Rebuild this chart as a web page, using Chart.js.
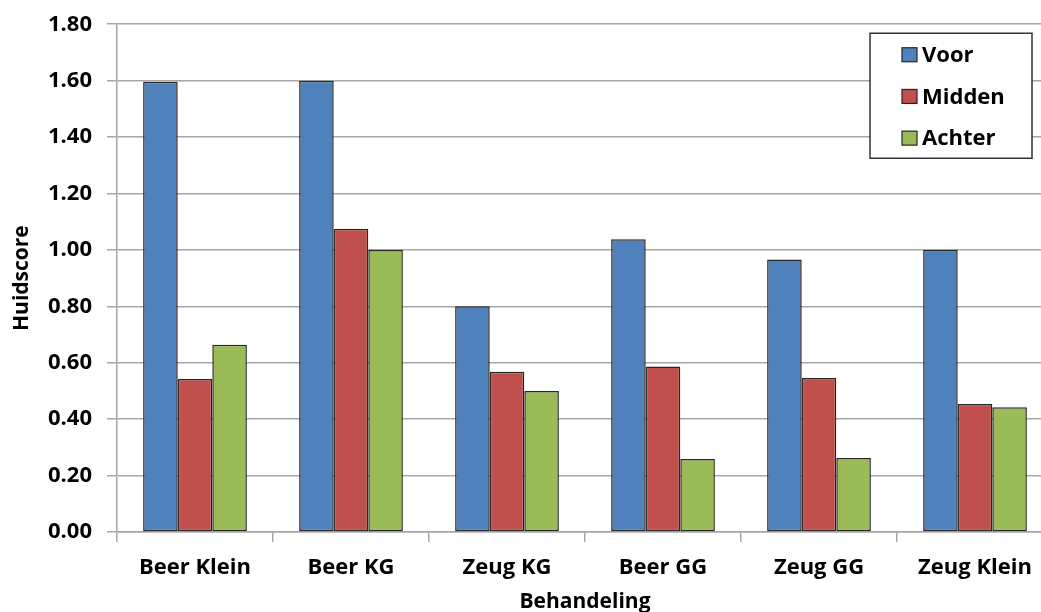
<!DOCTYPE html>
<html>
<head>
<meta charset="utf-8">
<title>Huidscore per behandeling</title>
<script src="https://cdn.jsdelivr.net/npm/chart.js@4/dist/chart.umd.min.js"></script>
<style>
  html, body { margin: 0; padding: 0; background: #fff; overflow: hidden; }
  #wrap { width: 1041px; height: 612px; overflow: hidden; position: relative; }
  canvas { display: block; }
</style>
</head>
<body>
<div id="wrap"><canvas id="chart" width="1053" height="620"></canvas></div>
<script>
// Categories and scores per body region
const categories = ['Beer Klein', 'Beer KG', 'Zeug KG', 'Beer GG', 'Zeug GG', 'Zeug Klein'];
const voor   = [1.596, 1.600, 0.800, 1.038, 0.966, 1.000];
const midden = [0.542, 1.075, 0.568, 0.587, 0.546, 0.454];
const achter = [0.664, 1.000, 0.500, 0.259, 0.262, 0.442];
const seriesNames = ['Voor', 'Midden', 'Achter'];
const yMin = 0, yMax = 1.8, yStep = 0.2;

const FONT = "'Open Sans', 'DejaVu Sans', sans-serif";
const GRID = '#a6a6a6';
const EDGE = '#262626';

// Legend drawn as a boxed panel inside the plot area (top right)
const boxedLegend = {
  id: 'boxedLegend',
  afterDraw(chart) {
    const ctx = chart.ctx;
    const area = chart.chartArea;
    const w = 162, h = 125;
    const x = area.right - 21 - w, y = area.top + 9;
    ctx.save();
    ctx.fillStyle = '#ffffff';
    ctx.fillRect(x, y, w, h);
    ctx.strokeStyle = '#333333';
    ctx.lineWidth = 1.5;
    ctx.strokeRect(x, y, w, h);
    ctx.font = 'bold 22px ' + FONT;
    ctx.textBaseline = 'middle';
    ctx.textAlign = 'left';
    chart.data.datasets.forEach((ds, i) => {
      const cy = y + 21.5 + i * 41.7;
      ctx.fillStyle = ds.backgroundColor;
      ctx.fillRect(x + 32, cy - 7, 15, 14);
      ctx.strokeStyle = EDGE;
      ctx.lineWidth = 1.2;
      ctx.strokeRect(x + 32, cy - 7, 15, 14);
      ctx.fillStyle = '#000000';
      ctx.fillText(ds.label, x + 52, cy + 1);
    });
    ctx.restore();
  }
};

const colors = ['#4F81BD', '#C0504D', '#9BBB59'];
const values = [voor, midden, achter];

new Chart(document.getElementById('chart'), {
  type: 'bar',
  data: {
    labels: categories,
    datasets: values.map((v, i) => ({
      label: seriesNames[i],
      data: v,
      backgroundColor: colors[i],
      borderColor: EDGE,
      borderWidth: 1.5,
      borderSkipped: false,
      barPercentage: 1.0,
      categoryPercentage: 0.665
    }))
  },
  options: {
    responsive: false,
    animation: false,
    devicePixelRatio: 1,
    layout: { padding: { top: 0, right: 0, left: 0, bottom: 0 } },
    plugins: {
      legend: { display: false },
      tooltip: { enabled: false }
    },
    scales: {
      x: {
        offset: true,
        grid: {
          offset: true,
          drawOnChartArea: false,
          drawTicks: true,
          tickLength: 10,
          color: GRID,
          lineWidth: 1.5
        },
        border: { color: GRID, width: 1.5 },
        ticks: {
          color: '#000',
          font: { family: FONT, size: 22, weight: 'bold' },
          padding: 13,
          maxRotation: 0,
          autoSkip: false
        },
        title: {
          display: true,
          text: 'Behandeling',
          color: '#000',
          font: { family: FONT, size: 21, weight: 'bold' },
          padding: { top: 0, bottom: 5 }
        },
        afterFit(scale) { scale.height = 88; }
      },
      y: {
        min: yMin,
        max: yMax,
        grid: {
          color: GRID,
          lineWidth: 1.5,
          tickLength: 10,
          drawTicks: true
        },
        border: { color: GRID, width: 1.5 },
        ticks: {
          stepSize: yStep,
          color: '#000',
          font: { family: FONT, size: 22, weight: 'bold', lineHeight: 0.84 },
          padding: 15,
          callback: (v) => Number(v).toFixed(2)
        },
        title: {
          display: true,
          text: 'Huidscore',
          color: '#000',
          font: { family: FONT, size: 21, weight: 'bold' },
          padding: { top: 9, bottom: 0 }
        },
        afterFit(scale) { scale.width = 117; }
      }
    }
  },
  plugins: [boxedLegend]
});
</script>
</body>
</html>
